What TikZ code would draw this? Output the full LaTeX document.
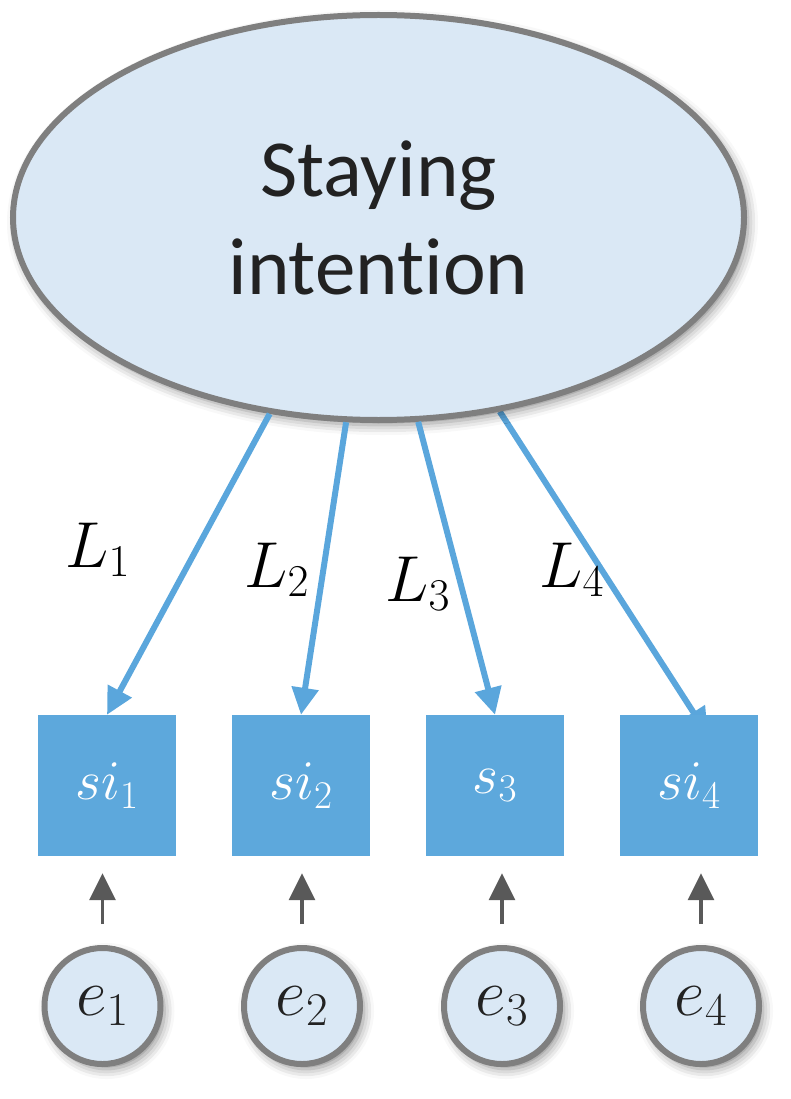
\RequirePackage{fix-cm}
\documentclass[tikz,border=0pt]{standalone}
\usepackage{fontspec}
\setmainfont{Carlito}[Ligatures={NoCommon,NoContextual}]
\usetikzlibrary{shapes.geometric,arrows.meta,shadows.blur}
\definecolor{ellfill}{HTML}{DAE8F5}
\definecolor{bordergray}{HTML}{7F7F7F}
\definecolor{boxblue}{HTML}{5DA8DC}
\definecolor{arrowblue}{HTML}{5AA6DC}
\definecolor{arrowgray}{HTML}{595959}
\definecolor{textdark}{HTML}{222222}
\pgfdeclarelayer{bg}
\pgfsetlayers{bg,main}
\begin{document}
\begin{tikzpicture}[x=1pt,y=-1pt,
  softshadow/.style={blur shadow={shadow xshift=4pt, shadow yshift=-5pt, shadow blur radius=10pt, shadow opacity=45}},
  latent/.style={ellipse, draw=bordergray, line width=6pt, fill=ellfill, inner sep=0pt,
    text=textdark, align=center, softshadow},
  indicator/.style={rectangle, fill=boxblue, minimum width=138pt, minimum height=141pt,
    inner sep=0pt, text=white, font=\fontsize{56}{64}\selectfont},
  errterm/.style={circle, draw=bordergray, line width=6pt, fill=ellfill, minimum size=116pt,
    inner sep=0pt, text=textdark, font=\fontsize{67}{76}\selectfont, softshadow},
  loadlabel/.style={anchor=base west, inner sep=0pt, text=black, font=\fontsize{65}{74}\selectfont},
  loadarrow/.style={draw=arrowblue, line width=6pt, -{Triangle[length=27pt,width=26pt]}},
  errarrow/.style={draw=arrowgray, line width=3.2pt, -{Triangle[length=27pt,width=26pt]},
    shorten <=21pt, shorten >=17pt}
]
\useasboundingbox (0,0) rectangle (791,1099);

% latent variable
\node[latent, minimum width=731pt, minimum height=405pt,
  font=\fontsize{81}{98}\selectfont] (ell) at (378.5,217.5) {Staying\\intention};

% indicators
\node[indicator] (b1) at (107,785.5) {$si_1$};
\node[indicator] (b2) at (301,785.5) {$si_2$};
\node[indicator] (b3) at (495,785.5) {$s_3$};
\node[indicator] (b4) at (689,785.5) {$si_4$};

% error terms
\node[errterm] (c1) at (102.5,1006) {$e_1$};
\node[errterm] (c2) at (302,1006) {$e_2$};
\node[errterm] (c3) at (502,1006) {$e_3$};
\node[errterm] (c4) at (701,1006) {$e_4$};

% loading arrows
\draw[loadarrow] (ell.-119.5) -- (b1.north);
\draw[loadarrow] (ell.-99.7) -- (b2.north);
\draw[loadarrow] (ell.-79.2) -- (b3.north);
\coordinate (t4) at (708,735);
\begin{pgfonlayer}{bg}
\draw[loadarrow] (ell.-58.5) -- (t4);
\end{pgfonlayer}

% loading labels
\node[loadlabel] (l1) at (65,567) {$L_1$};
\node[loadlabel] (l2) at (244,587) {$L_2$};
\node[loadlabel] (l3) at (385,601) {$L_3$};
\node[loadlabel] (l4) at (539,587) {$L_4$};

% error arrows
\draw[errarrow] (c1.north) -- (c1.north |- b1.south);
\draw[errarrow] (c2.north) -- (c2.north |- b2.south);
\draw[errarrow] (c3.north) -- (c3.north |- b3.south);
\draw[errarrow] (c4.north) -- (c4.north |- b4.south);
\end{tikzpicture}
\end{document}
